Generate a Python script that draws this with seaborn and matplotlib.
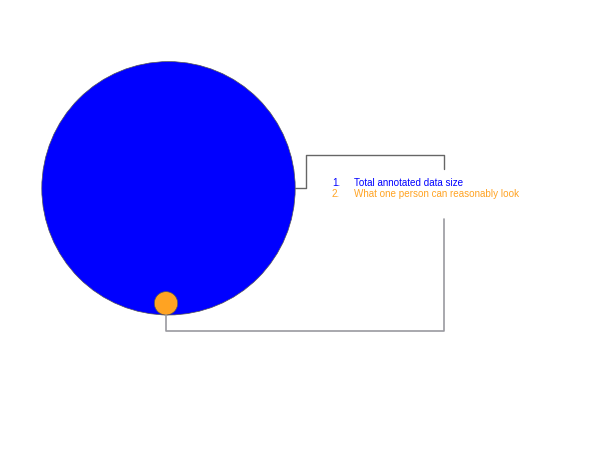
import matplotlib
matplotlib.use('Agg')
import matplotlib.pyplot as plt
import seaborn as sns
import numpy as np
from matplotlib.patches import Circle

# relative sizes (area) of the two things being compared
labels = ['Total annotated data size', 'What one person can reasonably look']
values = [1.0, 0.0085]
colors = ['#0000ff', '#ffa322']
line_colors = ['#666666', '#9a9aa0']

sns.set_theme(style='white')
plt.rcParams['font.family'] = ['Liberation Sans', 'DejaVu Sans']

fig = plt.figure(figsize=(6, 4.5), dpi=100)
ax = fig.add_axes([0, 0, 1, 1])
ax.set_xlim(0, 600)
ax.set_ylim(450, 0)
ax.set_aspect('equal')
ax.axis('off')

# circles share a common bottom edge
big_r = 126.7
bottom = 315
radii = [big_r * np.sqrt(v) for v in values]
cx = [168.5, 166]
for x, r, c in zip(cx, radii, colors):
    ax.add_patch(Circle((x, bottom - r), r, facecolor=c, edgecolor='#555555', lw=0.5))

# callout lines
r0 = radii[0]
ax.plot([cx[0] + r0, 306, 306, 444, 444], [188, 188, 155, 155, 169],
        color=line_colors[0], lw=1)
ax.plot([cx[1], cx[1], 444, 444], [bottom - 0.5, 330.5, 330.5, 219],
        color=line_colors[1], lw=1.2)

# numbered legend
for i, (lab, c) in enumerate(zip(labels, colors)):
    y = 182.5 + i * 11.5
    ax.text(332, y, f'{i + 1}.', color=c, fontsize=7.15, va='center')
    ax.text(354, y, lab, color=c, fontsize=7.15, va='center')

fig.savefig('out.png', dpi=100)
